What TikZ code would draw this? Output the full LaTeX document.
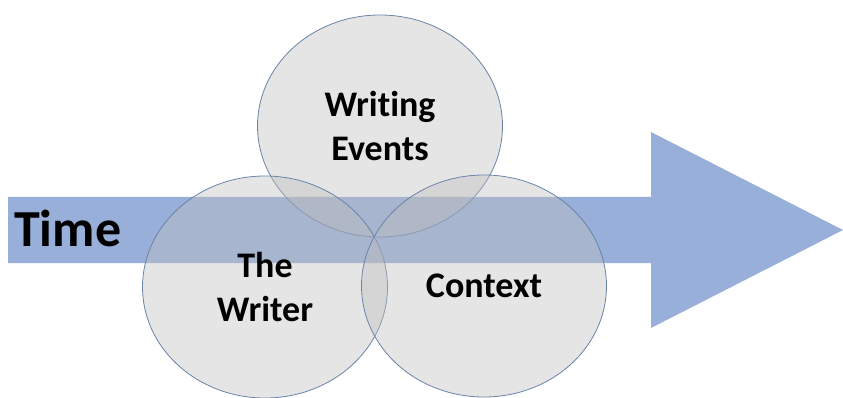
\documentclass[tikz,border=0pt]{standalone}
\usepackage{fontspec}
\setmainfont[Ligatures=NoCommon]{Carlito}
\usetikzlibrary{shapes.geometric}
\definecolor{arrowblue}{RGB}{152,175,218}
\definecolor{ringgray}{RGB}{190,190,190}
\definecolor{ringedge}{RGB}{105,132,168}

\begin{document}
\begin{tikzpicture}[
    x=1pt, y=-1pt,
    every node/.style={text=black, font=\bfseries},
    ring/.style={ellipse, draw=ringedge, line width=0.8pt, fill=ringgray, fill opacity=0.4, text opacity=1, minimum width=245pt, minimum height=222pt, inner sep=0pt, align=center, font=\bfseries\fontsize{36}{44}\selectfont}
]
    \useasboundingbox (0,0) rectangle (843,398);
    % time arrow
    \fill[arrowblue] (8,197) -- (651,197) -- (651,132) -- (843,230) -- (651,328) -- (651,263) -- (8,263) -- cycle;
    \node[anchor=base west, inner sep=0pt, font=\bfseries\fontsize{52}{60}\selectfont] (time) at (14,247) {Time};
    \node[ring] (events) at (380,126) {Writing\\Events};
    \node[ring] (writer) at (265,287) {The\\Writer};
    \node[ring] (context) at (484,286) {Context};
\end{tikzpicture}
\end{document}
